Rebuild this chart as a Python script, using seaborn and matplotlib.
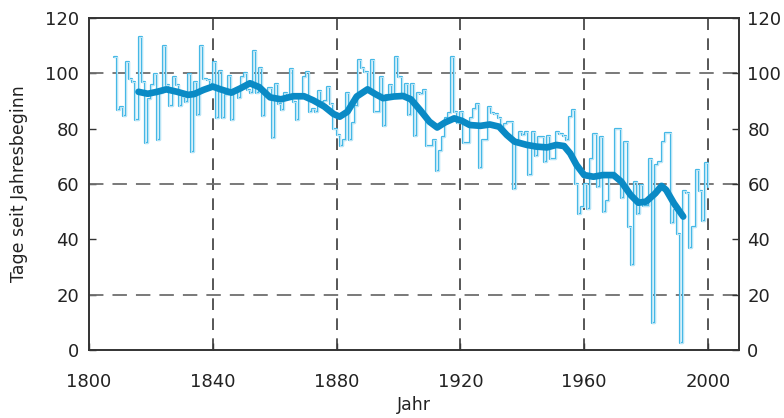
import numpy as np
import pandas as pd
import matplotlib
matplotlib.use("Agg")
import matplotlib.pyplot as plt
import seaborn as sns

# ---------------- data ----------------
start_year = 1808
day_values = [
    106, 86.7, 87.7, 84.7, 104, 97.8, 97, 83, 113, 96.7,
    74.7, 90.7, 95.8, 99.8, 75.9, 93, 110, 95.8, 88, 98.8,
    95.8, 88, 91.6, 89.8, 99.8, 71.7, 97, 85, 110, 97.8,
    97.5, 96, 104, 84, 101, 84, 92, 99, 83, 94,
    91, 98.5, 100, 94, 93, 108, 93, 102, 84.6, 93,
    94.6, 76.5, 96, 89, 86.7, 93, 91, 101.4, 89.5, 83,
    91, 98.5, 100.6, 86,
    87, 86, 93.7, 89.5, 90, 95, 89, 80, 77.7, 73.7,
    76, 92.8, 76, 82, 88, 104.8, 101.8, 100.5, 94, 104.8,
    86, 86, 98.8, 81, 92, 95.8, 91.6, 106, 98.8, 91.6,
    96, 85, 96, 77.5, 93, 92.5, 94, 73.7, 73.7, 76,
    64.8, 72, 77, 83.7, 85.5, 105.8, 86, 82, 86, 74.7,
    74.7, 84, 87, 89, 65.7, 76, 75.9, 87.7, 85.5, 85.3,
    83.7, 79.5, 81.7,
    82.3, 82.3, 58.2, 74.5, 78.9, 77.8, 78.9, 63.3, 78.9, 70.2,
    76.9, 76.9, 68, 77.2, 69, 69, 78.9, 78, 77.2, 76,
    84.1, 86.9,
    60, 49.2, 51.6, 60, 50.8, 69, 78, 59, 77, 50,
    54, 62, 62, 79.8, 79.8, 55, 75, 44.6, 30.7, 60.8,
    49, 59.6, 52, 52, 69, 9.6, 67, 68, 75, 78.5,
    78.5, 46, 50.4, 41.8, 2.6, 57.5, 56.6, 36.7, 44.6, 65,
    57.5, 46.7, 67.7, 59,
]

smooth_years = [
    1816, 1819, 1822, 1825, 1828.5, 1832, 1834, 1837, 1840, 1842.5,
    1846, 1849, 1852, 1855, 1858.5, 1862, 1866, 1869.5, 1872.5, 1876,
    1879, 1881, 1883.5, 1886.5, 1890, 1892.5, 1895, 1898.5, 1901.5, 1904,
    1907, 1910, 1912.5, 1915, 1918, 1920.5, 1923, 1926.5, 1929.5, 1932.5,
    1935, 1937.5, 1941.5, 1944.5, 1948, 1951, 1953.5, 1955.5, 1957.5, 1960,
    1963, 1966, 1969.5, 1972, 1975, 1977.5, 1980, 1983, 1985, 1986.5,
    1989, 1992,
]
smooth_values = [
    93.3, 92.6, 93.3, 94.2, 93.3, 92.2, 92.5, 94, 95.2, 94.2,
    93, 94.6, 96.4, 95, 91.3, 90.6, 91.7, 91.7, 90.2, 88,
    85.3, 84.3, 86.1, 91.6, 94.2, 92.5, 91, 91.6, 91.8, 90.6,
    86.7, 82.5, 80.4, 82.2, 83.7, 82.8, 81.3, 81, 81.5, 80.7,
    77.7, 75.3, 74.1, 73.5, 73.2, 74.1, 73.7, 71, 66.9, 63.2,
    62.6, 63.2, 63.2, 60.8, 56, 53.2, 53.6, 56.6, 59.3, 57.8,
    53, 48.2,
]

x_ticks = [1800, 1840, 1880, 1920, 1960, 2000]
y_ticks = [0, 20, 40, 60, 80, 100, 120]
grid_x = [1840, 1880, 1920, 1960, 2000]
grid_y = [20, 60, 100]
x_label = "Jahr"
y_label = "Tage seit Jahresbeginn"

# ---------------- drawing ----------------
sns.set_theme(style="ticks")
plt.rcParams["font.family"] = ["DejaVu Sans"]

fig = plt.figure(figsize=(7.84, 4.18), dpi=100)
ax = fig.add_axes([0.1135, 0.163, 0.829, 0.794])

years = np.arange(start_year, start_year + len(day_values))
df = pd.DataFrame({"Jahr": years, "Tage": day_values})
sdf = pd.DataFrame({"Jahr": smooth_years, "Tage": smooth_values})

for gx in grid_x:
    ax.axvline(gx, color="#3a3a3a", lw=1.2, ls=(0, (7, 5)), zorder=1)
for gy in grid_y:
    ax.axhline(gy, color="#6e6e6e", lw=1.3, ls=(0, (8, 5)), zorder=1)

sns.lineplot(data=df, x="Jahr", y="Tage", ax=ax, drawstyle="steps-post",
             color="#45b8e6", lw=1.6, estimator=None, zorder=3)
sns.lineplot(data=df, x="Jahr", y="Tage", ax=ax, drawstyle="steps-post",
             color="white", lw=0.45, estimator=None, zorder=4)
sns.lineplot(data=sdf, x="Jahr", y="Tage", ax=ax, color="#0a8ac5",
             lw=4.8, estimator=None, zorder=5, solid_capstyle="round",
             solid_joinstyle="round")

ax.set_xlim(1800, 2010)
ax.set_ylim(0, 120)
ax.set_xticks(x_ticks)
ax.set_yticks(y_ticks)
ax.set_xlabel(x_label, fontsize=12.5, color="#222222", labelpad=3)
ax.set_ylabel(y_label, fontsize=12.5, color="#222222", labelpad=12)
ax.tick_params(axis="y", direction="in", length=5, width=1, colors="#333333",
               labelsize=13, labelcolor="#222222", pad=7)
ax.tick_params(axis="x", direction="in", length=5, width=1, colors="#333333",
               labelsize=13, labelcolor="#222222", pad=17)
for s in ax.spines.values():
    s.set_color("#333333")
    s.set_linewidth(1.2)

ax2 = ax.twinx()
ax2.set_ylim(0, 120)
ax2.set_yticks(y_ticks)
ax2.tick_params(direction="in", length=5, width=1, colors="#333333",
                labelsize=13, labelcolor="#222222", pad=6)
for s in ax2.spines.values():
    s.set_color("#333333")
    s.set_linewidth(1.2)

fig.savefig("out.png", dpi=100)
